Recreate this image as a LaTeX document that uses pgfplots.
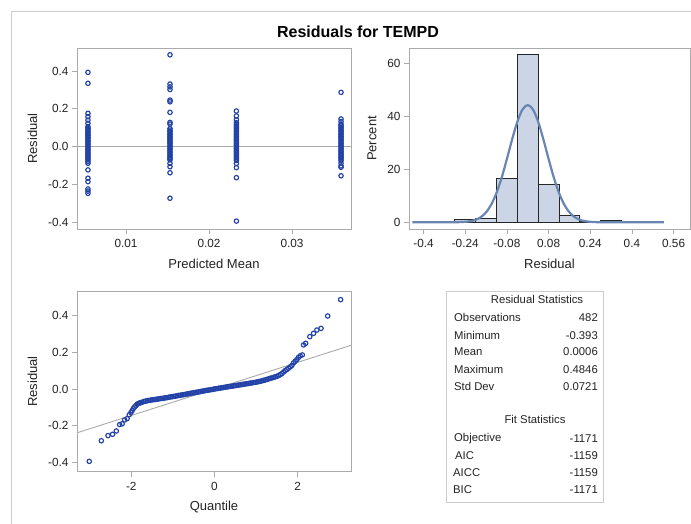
\documentclass[border=0pt]{standalone}
\usepackage{pgfplots}
\pgfplotsset{compat=1.18}
\usepackage{fontspec}
\setmainfont{Liberation Sans}
\definecolor{mk}{RGB}{34,66,168}
\definecolor{fr}{RGB}{205,205,205}
\definecolor{ax}{RGB}{170,170,170}
\definecolor{hf}{RGB}{203,213,230}
\definecolor{dc}{RGB}{105,133,178}
\definecolor{tx}{RGB}{35,35,35}
\pgfplotsset{
 sasaxis/.style={
  scale only axis, anchor=south west,
  axis line style={ax, line width=0.8pt},
  tick style={ax, line width=0.8pt}, tick align=outside, major tick length=5pt, tick pos=left,
  every tick label/.append style={font=\fontsize{11.8}{13}\selectfont, text=tx},
  label style={font=\fontsize{13}{15}\selectfont, text=tx},
  /pgf/number format/assume math mode=true,
  scaled ticks=false,
  xticklabel shift=2pt, xlabel shift=4pt, ylabel shift=4pt,
 },
 mk/.style={only marks, mark=o, mark size=2.2pt, mark options={draw=mk, line width=1.15pt}},
}
\begin{document}
\begin{tikzpicture}[x=1pt,y=1pt]
\useasboundingbox (0pt,0pt) rectangle (691pt,523pt);
\fill[white] (0pt,0pt) rectangle (691pt,523pt);
\draw[fr, line width=1pt] (11.5pt,-5pt) -- (11.5pt,511.3pt) -- (700pt,511.3pt);
\node[font=\bfseries\fontsize{16}{18}\selectfont, text=black] at (358pt,491pt) {Residuals for TEMPD};

% Panel 1: residual vs predicted mean
\begin{axis}[sasaxis, at={(77pt,294pt)}, width=274pt, height=181pt,
  xmin=0.0041, xmax=0.0371, ymin=-0.437, ymax=0.522,
  xtick={0.01,0.02,0.03}, xticklabels={0.01,0.02,0.03},
  ytick={-0.4,-0.2,0,0.2,0.4}, yticklabels={-0.4,-0.2,0.0,0.2,0.4},
  xlabel={Predicted Mean}, ylabel={Residual}]
\addplot[ax, line width=0.9pt] coordinates {(0.0041,0) (0.0371,0)};
\addplot[mk] table[row sep=\\] {
x y\\
0.00542 0.393\\ 0.00542 0.335\\ 0.00542 0.176\\ 0.00542 0.158\\ 0.00542 0.140\\ 0.00542 0.123\\ 0.00542 0.105\\
0.00542 0.097\\ 0.00542 0.089\\ 0.00542 0.081\\ 0.00542 0.073\\ 0.00542 0.065\\ 0.00542 0.057\\ 0.00542 0.049\\
0.00542 0.041\\ 0.00542 0.033\\ 0.00542 0.025\\ 0.00542 0.017\\ 0.00542 0.009\\ 0.00542 0.001\\ 0.00542 -0.007\\
0.00542 -0.015\\ 0.00542 -0.023\\ 0.00542 -0.031\\ 0.00542 -0.039\\ 0.00542 -0.047\\ 0.00542 -0.055\\ 0.00542 -0.063\\
0.00542 -0.071\\ 0.00542 -0.080\\ 0.00542 -0.089\\ 0.00542 -0.124\\ 0.00542 -0.168\\ 0.00542 -0.186\\ 0.00542 -0.225\\
0.00542 -0.236\\ 0.00542 -0.248\\
0.0153 0.486\\ 0.0153 0.331\\ 0.0153 0.316\\ 0.0153 0.302\\ 0.0153 0.246\\ 0.0153 0.237\\ 0.0153 0.181\\ 0.0153 0.128\\
0.0153 0.119\\ 0.0153 0.095\\ 0.0153 0.087\\ 0.0153 0.079\\ 0.0153 0.071\\ 0.0153 0.063\\ 0.0153 0.055\\ 0.0153 0.047\\
0.0153 0.039\\ 0.0153 0.031\\ 0.0153 0.023\\ 0.0153 0.015\\ 0.0153 0.007\\ 0.0153 -0.001\\ 0.0153 -0.009\\ 0.0153 -0.017\\
0.0153 -0.025\\ 0.0153 -0.033\\ 0.0153 -0.041\\ 0.0153 -0.049\\ 0.0153 -0.057\\ 0.0153 -0.065\\ 0.0153 -0.071\\
0.0153 -0.089\\ 0.0153 -0.107\\ 0.0153 -0.139\\ 0.0153 -0.274\\
0.0233 0.188\\ 0.0233 0.162\\ 0.0233 0.141\\ 0.0233 0.126\\ 0.0233 0.118\\ 0.0233 0.110\\ 0.0233 0.102\\ 0.0233 0.094\\
0.0233 0.086\\ 0.0233 0.078\\ 0.0233 0.070\\ 0.0233 0.062\\ 0.0233 0.054\\ 0.0233 0.046\\ 0.0233 0.038\\ 0.0233 0.030\\
0.0233 0.022\\ 0.0233 0.014\\ 0.0233 0.006\\ 0.0233 -0.002\\ 0.0233 -0.010\\ 0.0233 -0.018\\ 0.0233 -0.026\\ 0.0233 -0.034\\
0.0233 -0.042\\ 0.0233 -0.050\\ 0.0233 -0.058\\ 0.0233 -0.066\\ 0.0233 -0.074\\ 0.0233 -0.090\\ 0.0233 -0.112\\
0.0233 -0.165\\ 0.0233 -0.395\\
0.0359 0.287\\ 0.0359 0.146\\ 0.0359 0.132\\ 0.0359 0.118\\ 0.0359 0.110\\ 0.0359 0.102\\ 0.0359 0.094\\ 0.0359 0.086\\
0.0359 0.078\\ 0.0359 0.070\\ 0.0359 0.062\\ 0.0359 0.054\\ 0.0359 0.046\\ 0.0359 0.038\\ 0.0359 0.030\\ 0.0359 0.022\\
0.0359 0.014\\ 0.0359 0.006\\ 0.0359 -0.002\\ 0.0359 -0.010\\ 0.0359 -0.018\\ 0.0359 -0.026\\ 0.0359 -0.034\\ 0.0359 -0.042\\
0.0359 -0.050\\ 0.0359 -0.058\\ 0.0359 -0.066\\ 0.0359 -0.074\\ 0.0359 -0.088\\ 0.0359 -0.103\\ 0.0359 -0.110\\
0.0359 -0.155\\
};
\end{axis}

% Panel 2: histogram
\begin{axis}[sasaxis, at={(409pt,294pt)}, width=281pt, height=181pt,
  xmin=-0.456, xmax=0.623, ymin=-2.53, ymax=65.8,
  xtick={-0.4,-0.24,-0.08,0.08,0.24,0.4,0.56}, xticklabels={-0.4,-0.24,-0.08,0.08,0.24,0.4,0.56},
  ytick={0,20,40,60}, yticklabels={0,20,40,60},
  xlabel={Residual}, ylabel={Percent}]
\addplot[ybar interval, fill=hf, draw=black!85, line width=0.9pt] coordinates {
(-0.28,1.04) (-0.20,1.45) (-0.12,16.39) (-0.04,63.28) (0.04,14.11) (0.12,2.70) (0.20,0.21) (0.28,0.83) (0.36,0.83)};
\addplot[dc, line width=2.2pt, smooth] coordinates {
(-0.443,0) (-0.30,0.01) (-0.25,0.11) (-0.22,0.42) (-0.20,0.94) (-0.18,1.96) (-0.16,3.78) (-0.14,6.72)
(-0.12,11.08) (-0.10,16.92) (-0.08,23.92) (-0.06,31.31) (-0.04,37.96) (-0.02,42.60) (0,44.27)
(0.02,42.60) (0.04,37.96) (0.06,31.31) (0.08,23.92) (0.10,16.92) (0.12,11.08) (0.14,6.72)
(0.16,3.78) (0.18,1.96) (0.20,0.94) (0.22,0.42) (0.25,0.11) (0.30,0.01) (0.523,0)};
\end{axis}

% Panel 3: QQ plot
\begin{axis}[sasaxis, at={(77pt,51.3pt)}, width=274pt, height=180pt,
  xmin=-3.305, xmax=3.28, ymin=-0.449, ymax=0.528,
  xtick={-2,0,2}, xticklabels={-2,0,2},
  ytick={-0.4,-0.2,0,0.2,0.4}, yticklabels={-0.4,-0.2,0.0,0.2,0.4},
  xlabel={Quantile}, ylabel={Residual}]
\addplot[ax, line width=0.9pt] coordinates {(-3.305,-0.238) (3.28,0.237)};
\addplot[mk] table[row sep=\\] {
x y\\
-3.01 -0.393\\ -2.72 -0.281\\ -2.56 -0.253\\ -2.45 -0.246\\ -2.36 -0.228\\ -2.28 -0.193\\ -2.22 -0.189\\
-2.16 -0.168\\ -2.10 -0.161\\ -2.05 -0.140\\ -2.01 -0.128\\ -1.98 -0.118\\ -1.95 -0.106\\ -1.92 -0.097\\
-1.89 -0.090\\ -1.86 -0.083\\ -1.83 -0.079\\ -1.80 -0.076\\ -1.77 -0.074\\
-1.74 -0.072\\ -1.70 -0.068\\ -1.66 -0.066\\ -1.62 -0.064\\ -1.58 -0.062\\ -1.54 -0.061\\ -1.50 -0.059\\
-1.46 -0.058\\ -1.42 -0.057\\ -1.38 -0.055\\ -1.34 -0.054\\ -1.30 -0.052\\ -1.26 -0.051\\ -1.22 -0.050\\
-1.18 -0.048\\ -1.14 -0.047\\ -1.10 -0.045\\ -1.06 -0.043\\ -1.02 -0.042\\ -0.98 -0.040\\ -0.94 -0.039\\
-0.90 -0.037\\ -0.86 -0.035\\ -0.82 -0.034\\ -0.78 -0.032\\ -0.74 -0.031\\ -0.70 -0.029\\ -0.66 -0.027\\
-0.62 -0.026\\ -0.58 -0.024\\ -0.54 -0.022\\ -0.50 -0.021\\ -0.46 -0.019\\ -0.42 -0.017\\ -0.38 -0.016\\
-0.34 -0.014\\ -0.30 -0.012\\ -0.26 -0.011\\ -0.22 -0.009\\ -0.18 -0.007\\ -0.14 -0.006\\ -0.10 -0.004\\
-0.06 -0.003\\ -0.02 -0.001\\ 0.02 0.001\\ 0.06 0.002\\ 0.10 0.004\\ 0.14 0.005\\ 0.18 0.007\\
0.22 0.008\\ 0.26 0.010\\ 0.30 0.011\\ 0.34 0.013\\ 0.38 0.014\\ 0.42 0.015\\ 0.46 0.017\\
0.50 0.018\\ 0.54 0.020\\ 0.58 0.021\\ 0.62 0.023\\ 0.66 0.024\\ 0.70 0.026\\ 0.74 0.027\\
0.78 0.029\\ 0.82 0.030\\ 0.86 0.032\\ 0.90 0.033\\ 0.94 0.035\\ 0.98 0.036\\ 1.02 0.038\\
1.06 0.040\\ 1.10 0.042\\ 1.14 0.044\\ 1.18 0.047\\ 1.22 0.049\\ 1.26 0.052\\ 1.30 0.055\\
1.34 0.058\\ 1.38 0.060\\ 1.42 0.063\\ 1.46 0.066\\ 1.50 0.069\\ 1.54 0.073\\ 1.58 0.078\\
1.62 0.084\\ 1.66 0.092\\ 1.70 0.100\\ 1.74 0.106\\ 1.78 0.113\\ 1.82 0.120\\ 1.86 0.128\\
1.90 0.142\\ 1.94 0.150\\ 1.98 0.160\\ 2.02 0.172\\ 2.06 0.180\\ 2.11 0.185\\ 2.14 0.239\\
2.19 0.248\\ 2.29 0.284\\ 2.38 0.302\\ 2.46 0.320\\ 2.56 0.329\\ 2.72 0.396\\ 3.03 0.485\\
};
\end{axis}

% Statistics table
\draw[fr, line width=0.9pt] (446pt,20.7pt) rectangle (603pt,231.3pt);
\begin{scope}[every node/.style={font=\fontsize{11.3}{13}\selectfont, text=tx, inner sep=0pt}]
\node at (537pt,224pt) {Residual Statistics};
\node[anchor=west] at (454pt,205.3pt) {Observations}; \node[anchor=east] at (598pt,205.3pt) {482};
\node[anchor=west] at (454pt,187.7pt) {Minimum}; \node[anchor=east] at (598pt,187.7pt) {-0.393};
\node[anchor=west] at (454pt,171pt) {Mean}; \node[anchor=east] at (598pt,171pt) {0.0006};
\node[anchor=west] at (454pt,153.3pt) {Maximum}; \node[anchor=east] at (598pt,153.3pt) {0.4846};
\node[anchor=west] at (454pt,136.3pt) {Std Dev}; \node[anchor=east] at (598pt,136.3pt) {0.0721};
\node at (535pt,103.7pt) {Fit Statistics};
\node[anchor=west] at (454pt,84.7pt) {Objective}; \node[anchor=east] at (598pt,84.7pt) {-1171};
\node[anchor=west] at (455pt,67.7pt) {AIC}; \node[anchor=east] at (598pt,67.7pt) {-1159};
\node[anchor=west] at (453pt,50.7pt) {AICC}; \node[anchor=east] at (598pt,50.7pt) {-1159};
\node[anchor=west] at (453pt,33.3pt) {BIC}; \node[anchor=east] at (598pt,33.3pt) {-1171};
\end{scope}
\end{tikzpicture}
\end{document}
